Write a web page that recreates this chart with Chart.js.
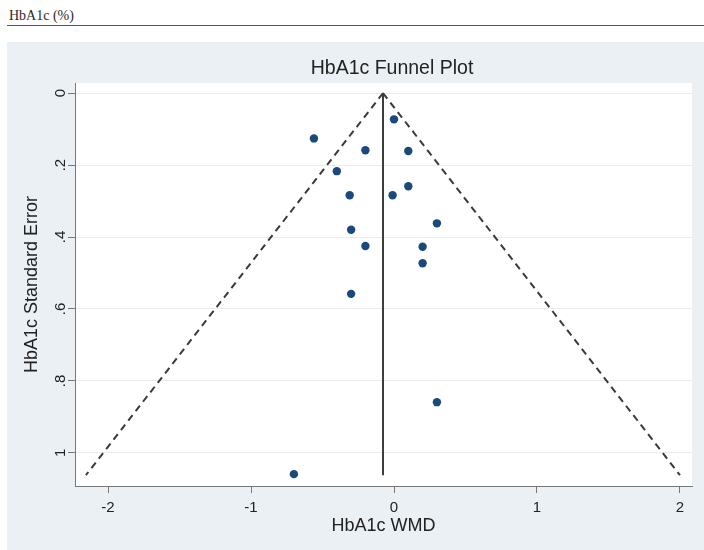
<!DOCTYPE html>
<html>
<head>
<meta charset="utf-8">
<script src="https://cdn.jsdelivr.net/npm/chart.js@4.4.1/dist/chart.umd.min.js"></script>
<style>
  html, body { margin: 0; padding: 0; background: #fff; }
  body { width: 704px; height: 550px; position: relative; overflow: hidden; }
  #hdr { position: absolute; left: 9px; top: 9px; font: 14px/14px "Liberation Serif", "DejaVu Serif", serif; color: #2a2a2a; }
  #rule { position: absolute; left: 7px; right: 0; top: 25px; border-top: 1.5px solid #555; }
  #panel { position: absolute; left: 7px; top: 42px; width: 697px; height: 508px; background: #eaf0f3; }
  canvas { display: block; }
</style>
</head>
<body>
<div id="hdr">HbA1c (%)</div>
<div id="rule"></div>
<div id="panel"><canvas id="funnel" width="697" height="508"></canvas></div>
<script>
"use strict";
// values
var xTicks = [-2, -1, 0, 1, 2];
var yTicks = [0, 0.2, 0.4, 0.6, 0.8, 1];
var studyWMD = [0.0, -0.56, -0.2, 0.1, -0.4, -0.31, -0.01, 0.1, 0.3, -0.3, -0.2, 0.2, 0.2, -0.3, 0.3, -0.7];
var studySE = [0.073, 0.126, 0.159, 0.161, 0.217, 0.284, 0.284, 0.259, 0.362, 0.38, 0.425, 0.427, 0.473, 0.558, 0.859, 1.059];
var pooledX = [-0.077, -0.077];
var funnelSE = [0, 1.062];
var funnelLeftX = [-0.077, -2.155];
var funnelRightX = [-0.077, 2.0];

var FONT = 'Arial, "Liberation Sans", Helvetica, sans-serif';

function pairs(xs, ys) {
  return xs.map(function (x, i) { return { x: x, y: ys[i] }; });
}
function fmt(v) {
  return String(v).replace(/^0\./, ".");
}

var frame = {
  id: "frame",
  beforeDraw: function (chart) {
    var a = chart.chartArea, ctx = chart.ctx;
    ctx.save();
    ctx.fillStyle = "#fff";
    ctx.fillRect(a.left, a.top, a.right - a.left, a.bottom - a.top);
    ctx.restore();
  },
  afterDraw: function (chart) {
    var ctx = chart.ctx, a = chart.chartArea;
    var xs = chart.scales.x, ys = chart.scales.y;
    ctx.save();
    ctx.fillStyle = "#222";
    ctx.textAlign = "center";
    ctx.textBaseline = "alphabetic";
    ctx.font = "15px " + FONT;
    xTicks.forEach(function (v) { ctx.fillText(String(v), xs.getPixelForValue(v), 470); });
    yTicks.forEach(function (v) {
      ctx.save();
      ctx.translate(58, ys.getPixelForValue(v));
      ctx.rotate(-Math.PI / 2);
      ctx.fillText(fmt(v), 0, 0);
      ctx.restore();
    });
    ctx.font = "18px " + FONT;
    ctx.fillText("HbA1c WMD", (a.left + a.right) / 2, 489);
    ctx.save();
    ctx.translate(30, (a.top + a.bottom) / 2);
    ctx.rotate(-Math.PI / 2);
    ctx.fillText("HbA1c Standard Error", 0, 0);
    ctx.restore();
    ctx.font = "19.5px " + FONT;
    ctx.fillText("HbA1c Funnel Plot", 385, 32);
    ctx.restore();
  }
};

new Chart(document.getElementById("funnel"), {
  type: "scatter",
  data: {
    datasets: [
      { data: pairs(studyWMD, studySE), backgroundColor: "#1b4a7a", borderWidth: 0, pointRadius: 4.2, order: 0 },
      { data: pairs(pooledX, funnelSE), showLine: true, borderColor: "#3d3d3d", borderWidth: 2, pointRadius: 0, order: 1 },
      { data: pairs(funnelLeftX, funnelSE), showLine: true, borderColor: "#3a3a3a", borderWidth: 2, borderDash: [7, 5], pointRadius: 0, order: 1 },
      { data: pairs(funnelRightX, funnelSE), showLine: true, borderColor: "#3a3a3a", borderWidth: 2, borderDash: [7, 5], pointRadius: 0, order: 1 }
    ]
  },
  options: {
    responsive: false,
    animation: false,
    layout: { padding: { top: 41, right: 12, left: 0, bottom: 0 } },
    plugins: { legend: { display: false }, tooltip: { enabled: false }, title: { display: false } },
    scales: {
      x: {
        type: "linear", min: -2.231, max: 2.084,
        afterBuildTicks: function (s) { s.ticks = xTicks.map(function (v) { return { value: v }; }); },
        afterFit: function (s) { s.height = 64; },
        ticks: { display: false },
        grid: { drawOnChartArea: false, drawTicks: true, tickLength: 7, tickColor: "#777" },
        border: { color: "#777", width: 1 }
      },
      y: {
        type: "linear", min: -0.028, max: 1.092, reverse: true,
        afterBuildTicks: function (s) { s.ticks = yTicks.map(function (v) { return { value: v }; }); },
        afterFit: function (s) { s.width = 68; },
        ticks: { display: false },
        grid: { color: "#e8ecee", drawTicks: true, tickLength: 7, tickColor: "#777" },
        border: { color: "#777", width: 1 }
      }
    }
  },
  plugins: [frame]
});
</script>
</body>
</html>
